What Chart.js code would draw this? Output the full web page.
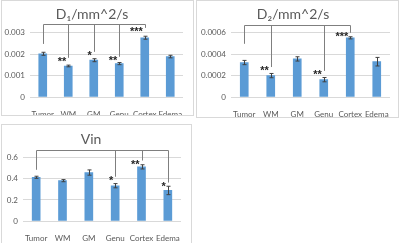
<!DOCTYPE html>
<html>
<head>
<meta charset="utf-8">
<script src="https://cdn.jsdelivr.net/npm/chart.js@4.4.1/dist/chart.umd.min.js"></script>
<style>
  body { margin: 0; background: #fff; width: 400px; height: 243px; overflow: hidden; position: relative; }
  canvas { position: absolute; }
  .frame { position: absolute; border: 1px solid #d9d9d9; box-sizing: border-box; }
</style>
</head>
<body>
<div class="frame" style="left:1px;top:0px;width:193px;height:116px"></div>
<div class="frame" style="left:196px;top:0px;width:203px;height:118px"></div>
<div class="frame" style="left:1px;top:124px;width:191px;height:122px"></div>
<canvas id="c1" width="192" height="115" style="left:1px;top:0px"></canvas>
<canvas id="c2" width="202" height="117" style="left:196px;top:0px"></canvas>
<canvas id="c3" width="190" height="118" style="left:1px;top:125px"></canvas>
<script>
const regions = ["Tumor", "WM", "GM", "Genu", "Cortex", "Edema"];

// D1
const d1Values = [0.00202, 0.00145, 0.00172, 0.00156, 0.00277, 0.00189];
const d1Errors = [0.00007, 0.00004, 0.00007, 0.00005, 0.00007, 0.00006];
const d1Ticks = [0, 0.001, 0.002, 0.003];
const d1BracketTop = 0.00342;
const d1BracketEnds = [0.00248, 0.00183, 0.00211, 0.00188, 0.00323, null];
const d1Stars = ["", "**", "*", "**", "***", ""];

// D2
const d2Values = [0.000322, 0.0002, 0.000356, 0.000162, 0.000553, 0.00033];
const d2Errors = [0.00002, 0.00002, 0.00002, 0.00002, 0.00001, 0.00004];
const d2Ticks = [0, 0.0002, 0.0004, 0.0006];
const d2BracketTop = 0.000675;
const d2BracketEnds = [0.000497, 0.00028, null, 0.000244, 0.0006, null];
const d2Stars = ["", "**", "", "**", "***", ""];

// Vin
const vinValues = [0.415, 0.383, 0.46, 0.335, 0.514, 0.29];
const vinErrors = [0.01, 0.01, 0.025, 0.02, 0.02, 0.04];
const vinTicks = [0, 0.2, 0.4, 0.6];
const vinBracketTop = 0.67;
const vinBracketEnds = [0.486, null, null, 0.42, 0.574, 0.365];
const vinStars = ["", "", "", "*", "**", "*"];

const textGray = "#595959";
const font = "Lato, 'Liberation Sans', sans-serif";

const errorBars = {
    id: "errorBars",
    afterDatasetsDraw(chart, args, opts) {
        const { ctx, scales: { x, y } } = chart;
        ctx.save();
        ctx.strokeStyle = "#404040";
        ctx.lineWidth = 1;
        opts.errors.forEach((e, i) => {
            const v = chart.data.datasets[0].data[i];
            const px = Math.round(x.getPixelForValue(i)) + 0.5;
            const top = y.getPixelForValue(v + e);
            const bot = y.getPixelForValue(v - e);
            ctx.beginPath();
            ctx.moveTo(px, top); ctx.lineTo(px, bot);
            ctx.moveTo(px - 2, top); ctx.lineTo(px + 2, top);
            ctx.moveTo(px - 2, bot); ctx.lineTo(px + 2, bot);
            ctx.stroke();
        });
        ctx.restore();
    }
};

const brackets = {
    id: "brackets",
    afterDraw(chart, args, opts) {
        const { ctx, scales: { x, y } } = chart;
        const idx = opts.ends.map((e, i) => e === null ? -1 : i).filter(i => i >= 0);
        const topY = Math.round(y.getPixelForValue(opts.top)) + 0.5;
        ctx.save();
        ctx.strokeStyle = "#7f7f7f";
        ctx.lineWidth = 1;
        ctx.beginPath();
        ctx.moveTo(Math.round(x.getPixelForValue(idx[0])) + 0.5, topY);
        ctx.lineTo(Math.round(x.getPixelForValue(idx[idx.length - 1])) + 0.5, topY);
        idx.forEach(i => {
            const px = Math.round(x.getPixelForValue(i)) + 0.5;
            ctx.moveTo(px, topY);
            ctx.lineTo(px, y.getPixelForValue(opts.ends[i]));
        });
        ctx.stroke();
        ctx.fillStyle = "#262626";
        ctx.font = "bold 11px 'Liberation Sans', sans-serif";
        ctx.textAlign = "right";
        ctx.textBaseline = "middle";
        idx.forEach(i => {
            if (!opts.stars[i]) return;
            const px = x.getPixelForValue(i) - 2;
            ctx.fillText(opts.stars[i], px, y.getPixelForValue(opts.ends[i]) + 4);
        });
        ctx.restore();
    }
};

function makeChart(id, title, values, errors, ticks, top, ends, stars, yWidth, xHeight, padRight) {
    return new Chart(document.getElementById(id), {
        type: "bar",
        data: {
            labels: regions,
            datasets: [{
                data: values,
                backgroundColor: "#5b9bd5",
                barThickness: 8,
            }],
        },
        options: {
            responsive: false,
            animation: false,
            layout: { padding: { left: 0, right: padRight, top: 0, bottom: 0 } },
            scales: {
                x: {
                    grid: { display: false },
                    border: { display: false },
                    ticks: { color: textGray, font: { family: font, size: 8 }, padding: 5, maxRotation: 0, autoSkip: false },
                    afterFit: (s) => { s.height = xHeight; },
                },
                y: {
                    min: 0,
                    max: ticks[ticks.length - 1],
                    afterBuildTicks: (s) => { s.ticks = ticks.map(v => ({ value: v })); },
                    grid: { color: "#d9d9d9", drawTicks: false },
                    border: { display: false },
                    ticks: { color: textGray, font: { family: font, size: 8 }, padding: 5, callback: (v) => String(v) },
                    afterFit: (s) => { s.width = yWidth; },
                },
            },
            plugins: {
                legend: { display: false },
                tooltip: { enabled: false },
                title: {
                    display: true,
                    text: title,
                    color: textGray,
                    font: { family: font, size: 14, weight: "normal" },
                    padding: { top: 6, bottom: 10 },
                },
                errorBars: { errors },
                brackets: { top, ends, stars },
            },
        },
        plugins: [errorBars, brackets],
    });
}

makeChart("c1", "D\u2081/mm^2/s", d1Values, d1Errors, d1Ticks, d1BracketTop, d1BracketEnds, d1Stars, 29, 18, 10);
makeChart("c2", "D\u2082/mm^2/s", d2Values, d2Errors, d2Ticks, d2BracketTop, d2BracketEnds, d2Stars, 35, 20, 8);
makeChart("c3", "Vin", vinValues, vinErrors, vinTicks, vinBracketTop, vinBracketEnds, vinStars, 22, 22, 10);
</script>
</body>
</html>
